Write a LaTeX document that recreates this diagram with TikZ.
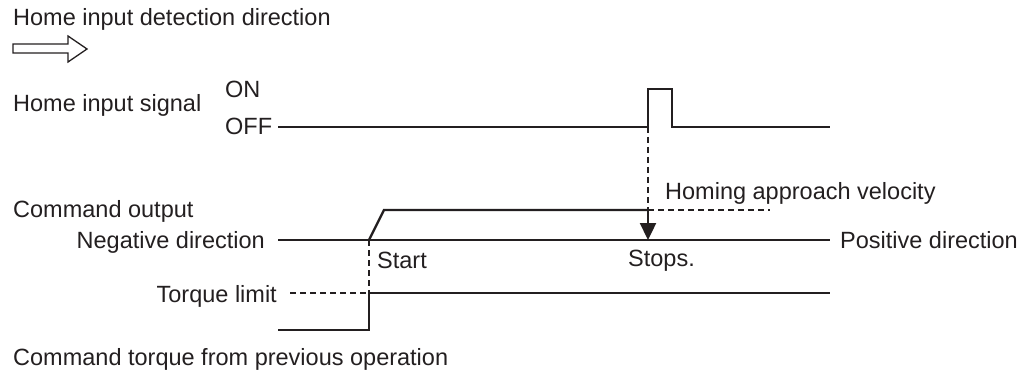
\documentclass[tikz,border=0pt]{standalone}
\usepackage{fontspec}
\setmainfont{Liberation Sans}
\usetikzlibrary{arrows.meta}
\definecolor{ink}{HTML}{231F20}
\begin{document}
\begin{tikzpicture}[x=1pt,y=-1pt,
  lbl/.style={inner sep=0pt, font=\fontsize{23.5}{28}\selectfont, text=ink},
  sig/.style={line width=2.4pt, draw=ink, line join=miter},
  axisline/.style={line width=1.4pt, draw=ink},
  dashline/.style={line width=1.5pt, draw=ink, dash pattern=on 6pt off 4pt},
  hollow/.style={line width=1.3pt, draw=ink, line join=miter},
]
\useasboundingbox (0,0) rectangle (1024,374);

% labels
\node[lbl, anchor=base west] (title) at (13,26) {Home input detection direction};
\node[lbl, anchor=base west] (his) at (13,112) {Home input signal};
\node[lbl, anchor=base west] (on) at (225,97.5) {ON};
\node[lbl, anchor=base west] (off) at (225,135) {OFF};
\node[lbl, anchor=base west] (cmdout) at (13,217) {Command output};
\node[lbl, anchor=base east] (neg) at (265,248) {Negative direction};
\node[lbl, anchor=base west] (pos) at (840,248) {Positive direction};
\node[lbl, anchor=base west] (start) at (377,268) {Start};
\node[lbl, anchor=base west] (stops) at (628,266) {Stops.};
\node[lbl, anchor=base west] (hav) at (665,199) {Homing approach velocity};
\node[lbl, anchor=base east] (tl) at (277,302) {Torque limit};
\node[lbl, anchor=base west] (ctp) at (13,365) {Command torque from previous operation};

% hollow direction arrow
\draw[hollow] (13,44) -- (68,44) -- (68,36) -- (87,49) -- (68,62) -- (68,53) -- (13,53) -- cycle;

% coordinates
\coordinate (offL) at (278,127);
\coordinate (p1) at (648,127);
\coordinate (p1t) at (648,89);
\coordinate (p2t) at (672,89);
\coordinate (p2) at (672,127);
\coordinate (offR) at (830,127);
\coordinate (axL) at (278,240);
\coordinate (axR) at (830,240);
\coordinate (r0) at (369,240);
\coordinate (r1) at (384,210);
\coordinate (stopTop) at (648,210);
\coordinate (stopBot) at (648,240);
\coordinate (havEnd) at (770,210);
\coordinate (tq0) at (278,330);
\coordinate (tq1) at (369,330);
\coordinate (tq2) at (369,293);
\coordinate (tq3) at (830,293);
\coordinate (tlS) at (290,293);

% home input signal
\draw[sig] (offL) -- (p1) -- (p1t) -- (p2t) -- (p2) -- (offR);
% axis
\draw[axisline] (axL) -- (axR);
% command output
\draw[sig] (r0) -- (r1) -- (stopTop);
\draw[dashline] (p1) -- (stopTop);
\draw[sig, -{Triangle[length=17pt,width=16pt]}] (stopTop) -- (stopBot);
\draw[dashline] (stopTop) -- (havEnd);
% torque
\draw[dashline] (r0) -- (tq2);
\draw[dashline] (tlS) -- (tq2);
\draw[sig] (tq0) -- (tq1) -- (tq2) -- (tq3);
\end{tikzpicture}
\end{document}
